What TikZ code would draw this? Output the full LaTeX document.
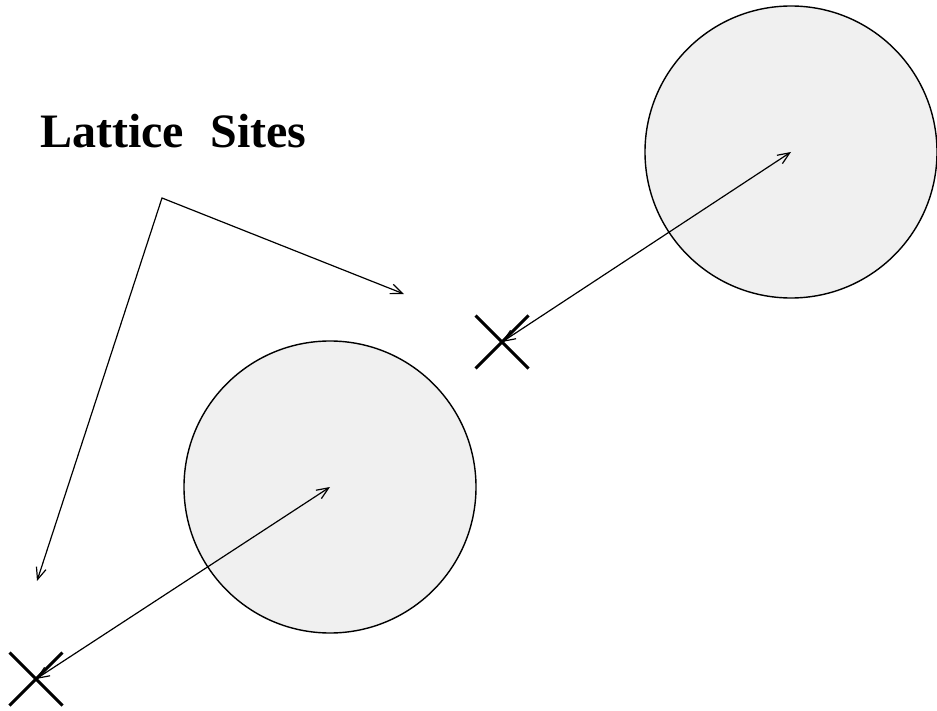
\documentclass[tikz,border=0pt]{standalone}
\usepackage{fontspec}
\setmainfont{Liberation Serif}
\usetikzlibrary{arrows.meta,shapes.misc}
\begin{document}
\begin{tikzpicture}[x=1pt,y=-1pt,
  site/.style={circle,draw=black,line width=1.4pt,fill=black!6,minimum size=292pt,inner sep=0pt},
  lattice/.style={cross out,draw=black,line width=3pt,minimum size=50pt,inner sep=0pt},
  conn/.style={line width=1.2pt,{Straight Barb[length=12pt,width=10pt]}-{Straight Barb[length=12pt,width=10pt]}},
  lbl/.style={font=\fontsize{48}{58}\selectfont\bfseries,inner sep=0pt,anchor=base west}
]
\useasboundingbox (0,0) rectangle (937,711);
\node[site] (c1) at (791,152) {};
\node[site] (c2) at (330,487) {};
\node[lattice] (x1) at (502,342) {};
\node[lattice] (x2) at (36,679) {};
\node[lbl] (title) at (40,148) {Lattice\hspace{0.55em}Sites};
\coordinate (v) at (162,198);
\coordinate (a) at (404,294);
\coordinate (b) at (37,581);
\draw[conn] (x1.center) -- (c1.center);
\draw[conn] (x2.center) -- (c2.center);
\draw[conn] (a) -- (v) -- (b);
\end{tikzpicture}
\end{document}
